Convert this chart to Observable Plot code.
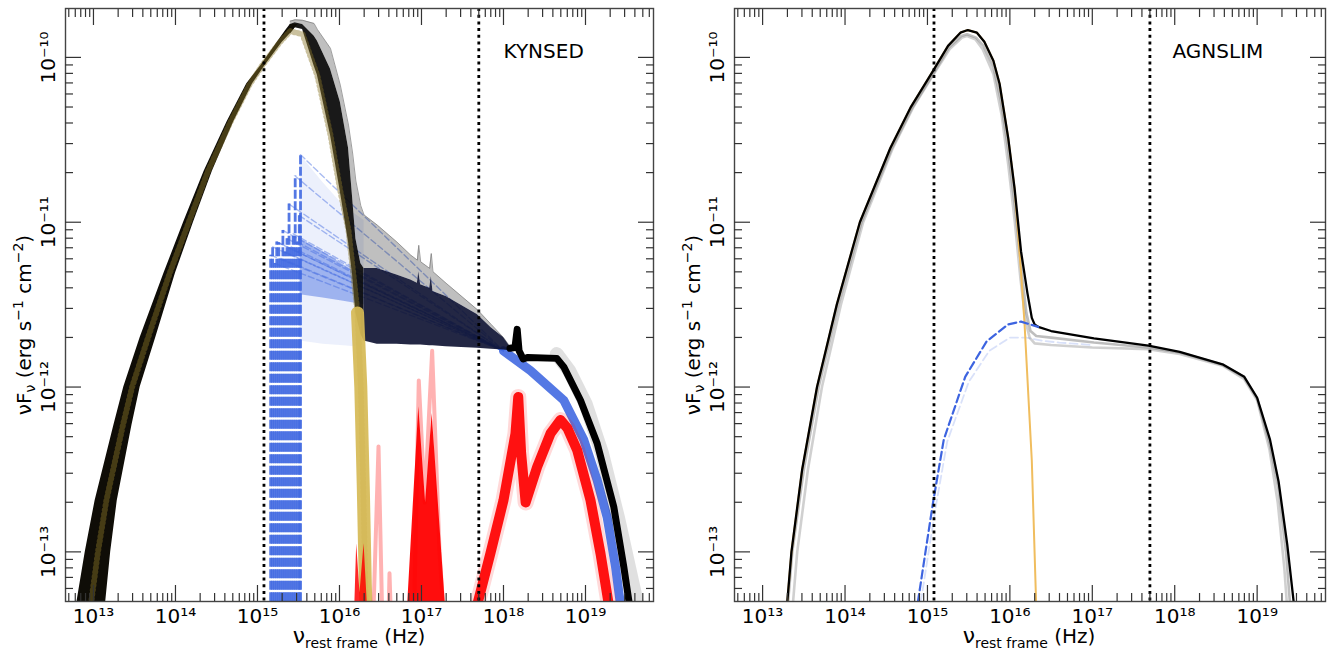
<!DOCTYPE html>
<html><head><meta charset="utf-8">
<script src="https://cdn.jsdelivr.net/npm/d3@7"></script>
<script src="https://cdn.jsdelivr.net/npm/@observablehq/plot@0.6"></script>
<style>
body{margin:0;background:#fff;}
#wrap{display:flex;width:1333px;height:655px;overflow:hidden;}
</style></head><body><div id="wrap"></div>
<script>
// ---------------- axes / ticks ----------------
const xMajorTicks = [1e13, 1e14, 1e15, 1e16, 1e17, 1e18, 1e19];
const xTickLabels = ["10¹³", "10¹⁴", "10¹⁵", "10¹⁶", "10¹⁷", "10¹⁸", "10¹⁹"];
const yMajorTicks = [1e-13, 1e-12, 1e-11, 1e-10];
const yTickLabels = ["10⁻¹³", "10⁻¹²", "10⁻¹¹", "10⁻¹⁰"];
const minorMultipliers = [2, 3, 4, 5, 6, 7, 8, 9];
const xDomain = [4.56e12, 6.75e19];
const yDomain = [5.0e-14, 1.98e-10];
const bandEdges = [1.2e15, 5e17];            // dotted vertical lines (Hz)
const panelNames = ["KYNSED", "AGNSLIM"];

// ---------------- KYNSED (left) : values as log10(nu), log10(nuFnu) ----------------
const kynRiseLgF    = [-13.45,-13.30,-13.00,-12.69,-12.23,-12.00,-11.70,-11.31,-11.00,-10.69,-10.39,-10.16,-10.05,-9.91,-9.84,-9.80];
const kynRiseLgNuLo = [12.76,12.80,12.90,13.02,13.25,13.37,13.57,13.86,14.10,14.35,14.63,14.87,15.04,15.24,15.34,15.40];
const kynRiseLgNuHi = [13.10,13.15,13.21,13.29,13.47,13.57,13.76,14.00,14.22,14.45,14.71,14.94,15.09,15.30,15.43,15.49];
const kynBandLgNu   = [15.40,15.46,15.55,15.69,15.73,15.89,16.01,16.11,16.16,16.20,16.26,16.30,16.46,16.70,16.87,16.95,16.967,16.99,17.10,17.12,17.14,17.30,17.68,17.85,18.00,18.08];
const kynBandLgTop  = [-9.78,-9.772,-9.775,-9.794,-9.83,-9.945,-10.168,-10.411,-10.58,-10.75,-10.90,-10.956,-11.017,-11.12,-11.20,-11.23,-11.14,-11.24,-11.28,-11.19,-11.30,-11.37,-11.53,-11.62,-11.70,-11.755];
const kynBandLgCore = [-9.80,-9.79,-9.80,-9.87,-9.90,-10.07,-10.27,-10.55,-10.85,-11.10,-11.25,-11.28,-11.28,-11.32,-11.35,-11.37,-11.30,-11.38,-11.40,-11.33,-11.42,-11.45,-11.56,-11.64,-11.70,-11.755];
const kynBandLgBot  = [-9.86,-9.82,-9.83,-10.05,-10.107,-10.471,-10.814,-11.118,-11.32,-11.55,-11.68,-11.72,-11.74,-11.74,-11.745,-11.745,-11.745,-11.745,-11.75,-11.75,-11.75,-11.755,-11.765,-11.77,-11.775,-11.78];
const kynTailLgNu = [18.08,18.14,18.167,18.19,18.24,18.30,18.65,18.735,18.939,19.143,19.345,19.467,19.528,19.56];
const kynTailLgF  = [-11.765,-11.76,-11.65,-11.78,-11.83,-11.82,-11.826,-11.878,-12.08,-12.343,-12.727,-13.091,-13.293,-13.45];
const kynTailFaintLgNu = [18.65,18.80,19.00,19.20,19.40,19.60,19.75];
const kynTailFaintLgF  = [-11.80,-11.90,-12.10,-12.40,-12.80,-13.25,-13.60];
const kynDiscLgNu = [12.93,12.974,13.055,13.157,13.36,13.471,13.665,13.929,14.162,14.396,14.671,14.905,15.061,15.271,15.40,15.55,15.73,15.89,16.01,16.11,16.17,16.22,16.26,16.29,16.315,16.33];
const kynDiscLgF  = [-13.45,-13.299,-12.999,-12.689,-12.23,-12.0,-11.701,-11.31,-11.001,-10.691,-10.392,-10.163,-10.047,-9.909,-9.841,-9.86,-10.11,-10.47,-10.81,-11.05,-11.32,-11.55,-12.0,-12.6,-13.2,-13.45];
const blueStartLgNu = [15.161,15.185,15.21,15.235,15.26,15.285,15.31,15.335,15.36,15.385,15.41,15.435,15.46,15.485,15.51,15.525];
const blueStartLgF  = [-11.20,-11.15,-11.25,-11.12,-11.125,-11.22,-11.05,-11.18,-11.10,-10.89,-11.15,-11.07,-10.72,-11.12,-10.96,-10.59];
const blueTailLgNu = [18.0,18.329,18.735,18.979,19.142,19.264,19.366,19.427,19.46];
const blueTailLgF  = [-11.78,-11.90,-12.08,-12.32,-12.565,-12.79,-13.09,-13.32,-13.45];
const blueHazeLgNu   = [15.52,15.80,16.05,16.30];
const blueHazeLgTop  = [-10.59,-10.76,-10.90,-10.99];
const blueHazeLgBot  = [-11.72,-11.74,-11.75,-11.76];
const blueDenseLgTop = [-11.10,-11.18,-11.26,-11.33];
const blueDenseLgBot = [-11.44,-11.46,-11.48,-11.50];
const redLowLgNu   = [16.17,16.21,16.25,16.30,16.37];
const redLowLgF    = [-13.6,-12.95,-13.25,-12.95,-13.6];
const redSpikeLgNu = [16.80,16.967,17.05,17.13,17.33];
const redSpikeLgF  = [-13.6,-12.12,-12.70,-12.16,-13.6];
const redFaintLgNu = [16.40,16.476,16.53,16.59,16.61,16.64,16.90,16.967,17.04,17.13,17.22,17.30];
const redFaintLgF  = [-13.6,-12.36,-13.6,-13.6,-13.13,-13.6,-13.6,-11.96,-12.70,-11.78,-13.0,-13.6];
const redHighLgNu  = [17.62,17.68,17.84,18.0,18.146,18.18,18.215,18.27,18.41,18.573,18.695,18.78,18.899,19.061,19.183,19.284,19.32];
const redHighLgF   = [-13.6,-13.32,-13.01,-12.687,-12.282,-12.06,-12.40,-12.70,-12.485,-12.282,-12.20,-12.25,-12.383,-12.687,-13.01,-13.32,-13.6];

// ---------------- AGNSLIM (right) ----------------
const agnTotalLgNu = [13.26,13.30,13.35,13.48,13.66,13.90,14.18,14.55,14.80,15.07,15.25,15.40,15.49,15.60,15.69,15.80,15.875,15.98,16.057,16.135,16.213,16.266,16.30,16.344,16.5,17.02,17.68,18.06,18.58,18.844,19.0,19.156,19.26,19.365,19.443,19.47];
const agnTotalLgF  = [-13.45,-13.30,-13.0,-12.5,-12.0,-11.5,-11.0,-10.55,-10.30,-10.08,-9.93,-9.85,-9.834,-9.85,-9.905,-10.02,-10.16,-10.49,-10.795,-11.176,-11.43,-11.58,-11.62,-11.635,-11.66,-11.704,-11.748,-11.786,-11.862,-11.938,-12.065,-12.319,-12.573,-12.954,-13.302,-13.45];
const agnGrayALgNu = [13.32,13.37,13.42,13.55,13.72,13.95,14.22,14.58,14.83,15.09,15.27,15.42,15.48,15.58,15.67,15.80,15.90,15.98,16.06,16.13,16.19,16.24,16.30,16.5,17.0,17.68,18.06,18.58,18.84,19.0,19.15,19.25,19.33,19.38];
const agnGrayALgF  = [-13.45,-13.30,-13.0,-12.5,-12.0,-11.5,-11.0,-10.55,-10.30,-10.09,-9.95,-9.88,-9.87,-9.89,-9.95,-10.10,-10.35,-10.65,-11.00,-11.35,-11.60,-11.70,-11.735,-11.745,-11.76,-11.77,-11.80,-11.87,-11.95,-12.08,-12.38,-12.70,-13.1,-13.45];
const agnGrayBLgNu = [13.28,13.31,13.36,13.50,13.68,13.92,14.20,14.56,14.81,15.08,15.26,15.41,15.48,15.59,15.68,15.80,15.89,15.98,16.06,16.14,16.20,16.25,16.32,16.5,17.02,17.68,18.06,18.58,18.84,19.0,19.15,19.26,19.35,19.42];
const agnGrayBLgF  = [-13.45,-13.30,-13.0,-12.5,-12.0,-11.5,-11.0,-10.56,-10.31,-10.09,-9.94,-9.87,-9.86,-9.88,-9.93,-10.06,-10.26,-10.56,-10.90,-11.28,-11.55,-11.66,-11.69,-11.70,-11.73,-11.76,-11.79,-11.865,-11.94,-12.07,-12.34,-12.62,-13.0,-13.45];
const agnDiscLgNu = [13.26,13.30,13.35,13.48,13.66,13.90,14.18,14.55,14.80,15.07,15.25,15.40,15.49,15.60,15.69,15.80,15.875,15.98,16.057,16.135,16.177,16.266,16.318,16.33];
const agnDiscLgF  = [-13.45,-13.30,-13.0,-12.5,-12.0,-11.5,-11.0,-10.55,-10.30,-10.08,-9.93,-9.85,-9.834,-9.85,-9.905,-10.02,-10.16,-10.49,-10.795,-11.303,-11.608,-12.446,-13.302,-13.45];
const agnCoronaLgNu = [14.87,14.885,14.99,15.068,15.198,15.458,15.719,15.979,16.135,16.344,16.5,17.02,17.68,18.06,18.58,18.844,19.0,19.156,19.26,19.365,19.443,19.47];
const agnCoronaLgF  = [-13.45,-13.30,-12.954,-12.70,-12.319,-11.938,-11.722,-11.62,-11.603,-11.635,-11.66,-11.704,-11.748,-11.786,-11.862,-11.938,-12.065,-12.319,-12.573,-12.954,-13.302,-13.45];
const agnCoronaFaintLgNu = [14.90,14.92,15.03,15.11,15.24,15.50,15.75,16.0,16.2,16.4,16.6,17.0];
const agnCoronaFaintLgF  = [-13.45,-13.30,-12.95,-12.70,-12.33,-11.97,-11.78,-11.70,-11.70,-11.72,-11.73,-11.745];

// ---------------- helpers ----------------
const P = v => Math.pow(10, v);
const pts = (lgNu, lgF) => lgNu.map((v, i) => ({nu: P(v), f: P(lgF[i])}));
const FLOOR = 1e-14;

const xMinorTicks = [];
for (let e = 12; e <= 19; e++) for (const m of minorMultipliers) {
  const v = m * Math.pow(10, e);
  if (v > xDomain[0] && v < xDomain[1]) xMinorTicks.push(v);
}
const yMinorTicks = [];
for (let e = -14; e <= -10; e++) for (const m of minorMultipliers) {
  const v = m * Math.pow(10, e);
  if (v > yDomain[0] && v < yDomain[1]) yMinorTicks.push(v);
}

function frameMarks(name) {
  const tk = {fill: "none", stroke: "#333", strokeWidth: 1.2, label: null};
  return [
    Plot.ruleX(bandEdges, {stroke: "#000", strokeWidth: 2.8, strokeDasharray: "3,3.7"}),
    Plot.frame({stroke: "#444", strokeWidth: 1.4}),
    Plot.axisX(xMajorTicks, {...tk, anchor: "bottom", tickSize: -16}),
    Plot.axisX(xMinorTicks, {...tk, anchor: "bottom", tickSize: -8}),
    Plot.axisX(xMajorTicks, {...tk, anchor: "top", tickSize: -16}),
    Plot.axisX(xMinorTicks, {...tk, anchor: "top", tickSize: -8}),
    Plot.axisY(yMajorTicks, {...tk, anchor: "left", tickSize: -16}),
    Plot.axisY(yMinorTicks, {...tk, anchor: "left", tickSize: -8}),
    Plot.axisY(yMajorTicks, {...tk, anchor: "right", tickSize: -16}),
    Plot.axisY(yMinorTicks, {...tk, anchor: "right", tickSize: -8}),
    Plot.axisX(xMajorTicks, {anchor: "bottom", tickSize: 0, tickPadding: 7, label: null, fill: "#000",
      tickFormat: d => xTickLabels[xMajorTicks.indexOf(d)], fontSize: 20}),
    Plot.axisY(yMajorTicks, {anchor: "left", tickSize: 0, tickPadding: 11, tickRotate: -90, label: null, fill: "#000",
      tickFormat: d => yTickLabels[yMajorTicks.indexOf(d)], fontSize: 20}),
    Plot.text([name], {text: d => d, frameAnchor: "top-left", dx: 438, dy: 43, textAnchor: "start",
      lineAnchor: "middle", fontSize: 20, fill: "#000"})
  ];
}

function addTitles(svg, cx, ty) {
  const s = d3.select(svg);
  const xt = s.append("text").attr("x", cx).attr("y", 643).attr("text-anchor", "middle")
    .attr("font-family", "DejaVu Sans").attr("font-size", 20).attr("fill", "#000");
  xt.append("tspan").attr("font-size", 22).text("ν");
  xt.append("tspan").attr("dy", 5).attr("font-size", 14).text("rest frame");
  xt.append("tspan").attr("dy", -5).text(" (Hz)");
  const yt = s.append("text").attr("transform", `translate(${ty},325) rotate(-90)`)
    .attr("text-anchor", "middle").attr("font-family", "DejaVu Sans").attr("font-size", 20).attr("fill", "#000");
  yt.append("tspan").text("νF");
  yt.append("tspan").attr("dy", 4).attr("font-size", 14).text("ν");
  yt.append("tspan").attr("dy", -4).text(" (erg s");
  yt.append("tspan").attr("dy", -8).attr("font-size", 14).text("−1");
  yt.append("tspan").attr("dy", 8).text(" cm");
  yt.append("tspan").attr("dy", -8).attr("font-size", 14).text("−2");
  yt.append("tspan").attr("dy", 8).text(")");
}

const common = {
  height: 655, marginTop: 8, marginBottom: 54,
  x: {type: "log", domain: xDomain},
  y: {type: "log", domain: yDomain},
  style: {fontFamily: "DejaVu Sans", fontSize: "20px", background: "white", color: "#000", overflow: "visible"}
};

// ---------------- left panel ----------------
const rise = kynRiseLgF.map((v, i) => ({f: P(v), lo: P(kynRiseLgNuLo[i]), hi: P(kynRiseLgNuHi[i])}));
const band = kynBandLgNu.map((v, i) => ({nu: P(v), top: P(kynBandLgTop[i]), core: P(kynBandLgCore[i]), bot: P(kynBandLgBot[i])}));
const haze = blueHazeLgNu.map((v, i) => ({nu: P(v), top: P(blueHazeLgTop[i]), bot: P(blueHazeLgBot[i]),
  dtop: P(blueDenseLgTop[i]), dbot: P(blueDenseLgBot[i])}));
const blueStarts = pts(blueStartLgNu, blueStartLgF);
const blueTail = pts(blueTailLgNu, blueTailLgF);
const blueSlopes = blueStarts.flatMap((d, i) => [{...d, z: i}, {...blueTail[0], z: i}]);
const disc = pts(kynDiscLgNu, kynDiscLgF);
const NU_SPLIT = P(16.3);

const left = Plot.plot({
  ...common, width: 666, marginLeft: 65, marginRight: 13,
  marks: [
    Plot.areaY(haze, {x: "nu", y1: "bot", y2: "top", fill: "royalblue", fillOpacity: 0.1}),
    Plot.areaY(haze, {x: "nu", y1: "dbot", y2: "dtop", fill: "royalblue", fillOpacity: 0.45}),
    Plot.ruleX(blueStarts, {x: "nu", y1: FLOOR, y2: "f", stroke: "royalblue", strokeOpacity: 0.9, strokeWidth: 2.8, strokeDasharray: "9,2.5", clip: true}),
    Plot.line(blueSlopes, {x: "nu", y: "f", z: "z", stroke: "royalblue", strokeOpacity: 0.45, strokeWidth: 1.4, strokeDasharray: "6,3", clip: true}),
    Plot.line(blueTail, {x: "nu", y: "f", stroke: "royalblue", strokeWidth: 9, strokeOpacity: 0.9, clip: true}),
    Plot.areaY(band, {x: "nu", y1: "core", y2: "top", fill: "#000", fillOpacity: 0.25}),
    Plot.line(band, {x: "nu", y: "top", stroke: "#777", strokeWidth: 1, strokeOpacity: 0.7}),
    Plot.areaY(band, {x: "nu", y1: "bot", y2: "core", fill: "#070707", fillOpacity: 0.93, filter: d => d.nu < NU_SPLIT * 1.001}),
    Plot.areaY(band, {x: "nu", y1: "bot", y2: "core", fill: "#0b1030", fillOpacity: 0.9, filter: d => d.nu > NU_SPLIT * 0.999}),
    Plot.areaX(rise, {y: "f", x1: "lo", x2: "hi", fill: "#0f0d07", clip: true}),
    Plot.line(pts(kynTailFaintLgNu, kynTailFaintLgF), {x: "nu", y: "f", stroke: "#000", strokeWidth: 14, strokeOpacity: 0.12, clip: true}),
    Plot.line(pts(kynTailLgNu, kynTailLgF), {x: "nu", y: "f", stroke: "#000", strokeWidth: 7, clip: true}),
    Plot.line(disc, {x: "nu", y: "f", stroke: "#8a7628", strokeWidth: 6, strokeOpacity: 0.45, strokeDasharray: "1,3.5", clip: true}),
    Plot.line(disc, {x: "nu", y: "f", stroke: "#d6ba55", strokeWidth: 13, strokeOpacity: 0.92, filter: d => d.f < P(-11.5) && d.nu > 1e16, clip: true}),
    Plot.areaY(pts(redLowLgNu, redLowLgF), {x: "nu", y1: FLOOR, y2: "f", fill: "red", fillOpacity: 0.85, clip: true}),
    Plot.areaY(pts(redSpikeLgNu, redSpikeLgF), {x: "nu", y1: FLOOR, y2: "f", fill: "red", fillOpacity: 0.95, clip: true}),
    Plot.line(pts(redFaintLgNu, redFaintLgF), {x: "nu", y: "f", stroke: "red", strokeWidth: 4, strokeOpacity: 0.3, clip: true}),
    Plot.line(pts(redHighLgNu, redHighLgF), {x: "nu", y: "f", stroke: "red", strokeWidth: 16, strokeOpacity: 0.15, clip: true}),
    Plot.line(pts(redHighLgNu, redHighLgF), {x: "nu", y: "f", stroke: "red", strokeWidth: 10, strokeOpacity: 0.92, clip: true}),
    ...frameMarks(panelNames[0])
  ]
});

// ---------------- right panel ----------------
const right = Plot.plot({
  ...common, width: 667, marginLeft: 68, marginRight: 8,
  marks: [
    Plot.line(pts(agnGrayALgNu, agnGrayALgF), {x: "nu", y: "f", stroke: "#aaa", strokeWidth: 2.6, strokeOpacity: 0.55, clip: true}),
    Plot.line(pts(agnGrayBLgNu, agnGrayBLgF), {x: "nu", y: "f", stroke: "#888", strokeWidth: 2.6, strokeOpacity: 0.55, clip: true}),
    Plot.line(pts(agnCoronaFaintLgNu, agnCoronaFaintLgF), {x: "nu", y: "f", stroke: "#4169e1", strokeWidth: 1.8, strokeOpacity: 0.2, strokeDasharray: "8,4", clip: true}),
    Plot.line(pts(agnDiscLgNu, agnDiscLgF), {x: "nu", y: "f", stroke: "#f0bd5e", strokeWidth: 2, clip: true}),
    Plot.line(pts(agnTotalLgNu, agnTotalLgF), {x: "nu", y: "f", stroke: "#000", strokeWidth: 2.3, clip: true}),
    Plot.line(pts(agnCoronaLgNu, agnCoronaLgF), {x: "nu", y: "f", stroke: "#3d64e0", strokeWidth: 2.2, strokeDasharray: "8,4", clip: true, filter: d => d.nu < P(16.4)}),
    ...frameMarks(panelNames[1])
  ]
});

addTitles(left, 359, 31);
addTitles(right, 363, 34);
document.getElementById("wrap").append(left, right);
</script>
</body></html>
